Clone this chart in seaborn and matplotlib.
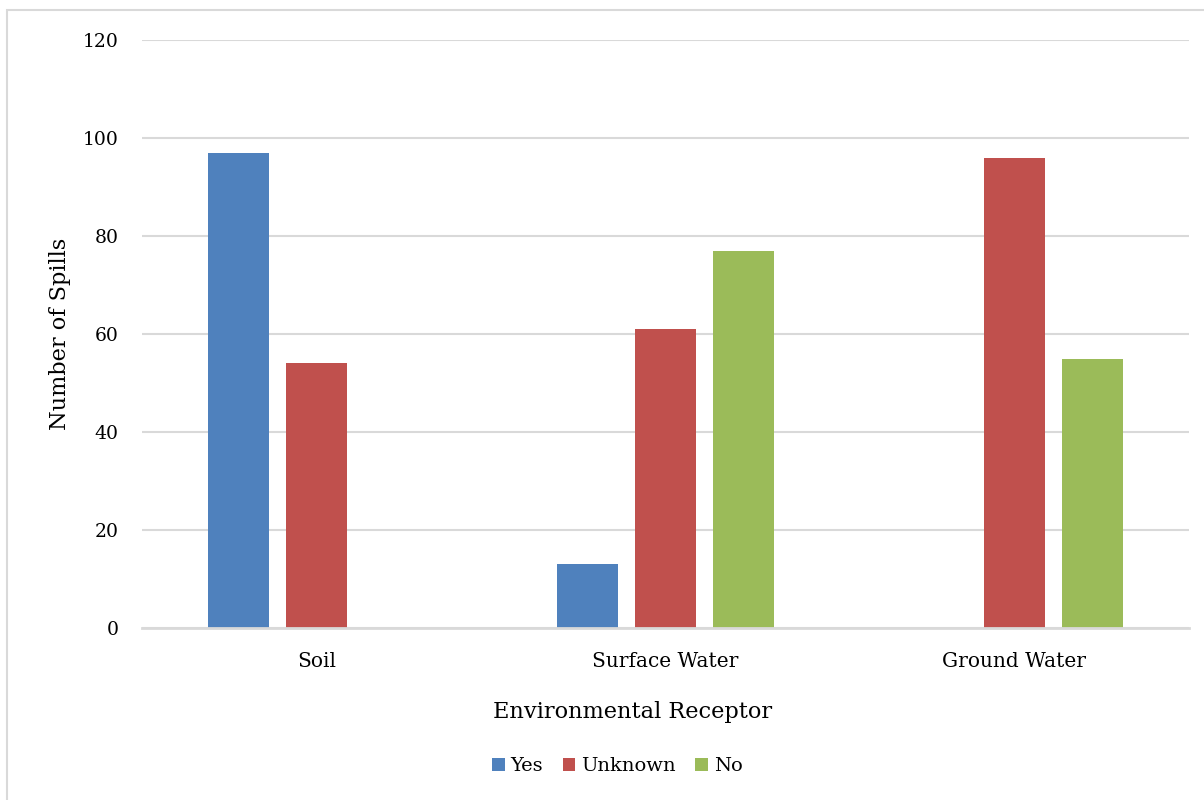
import numpy as np
import pandas as pd
import matplotlib
matplotlib.use("Agg")
import matplotlib.pyplot as plt
import seaborn as sns
from matplotlib.patches import Rectangle

receptors = ["Soil", "Surface Water", "Ground Water"]
answers = ["Yes", "Unknown", "No"]
spills_yes = [97, 13, np.nan]
spills_unknown = [54, 61, 96]
spills_no = [np.nan, 77, 55]
colors = ["#4F81BD", "#C0504D", "#9BBB59"]

df = pd.DataFrame({
    "Receptor": receptors * 3,
    "Answer": ["Yes"] * 3 + ["Unknown"] * 3 + ["No"] * 3,
    "Spills": spills_yes + spills_unknown + spills_no,
}).dropna()

sns.set_style("white")
plt.rcParams["font.family"] = ["DejaVu Serif"]
plt.rcParams["text.color"] = "black"

fig = plt.figure(figsize=(12.04, 8), dpi=100)
ax = fig.add_axes([142 / 1204, 1 - 628 / 800, (1189 - 142) / 1204, (628 - 40) / 800])

sns.barplot(data=df, x="Receptor", y="Spills", hue="Answer", order=receptors,
            hue_order=answers, palette=colors, width=0.67, gap=0.22,
            linewidth=0, saturation=1, ax=ax)

ax.set_ylim(0, 120)
ax.set_yticks(range(0, 121, 20))
ax.set_xlim(-0.5, 2.5)
ax.yaxis.grid(True, color="#D9D9D9", linewidth=1.5)
ax.set_axisbelow(True)
for s in ["top", "right", "left"]:
    ax.spines[s].set_visible(False)
ax.spines["bottom"].set_color("#D9D9D9")
ax.spines["bottom"].set_linewidth(2)
ax.tick_params(axis="both", length=0, colors="black")
ax.tick_params(axis="x", pad=17, labelsize=14.5)
ax.tick_params(axis="y", pad=17, labelsize=13.5)
ax.set_xlabel("Environmental Receptor", fontsize=16.2, color="black")
ax.xaxis.set_label_coords(0.469, -0.124)
ax.set_ylabel("Number of Spills", fontsize=16.2, labelpad=8, color="black")

leg = ax.legend(loc="upper center", bbox_to_anchor=(0.454, -0.19), ncol=3, frameon=False,
                fontsize=14, handlelength=0.65, handleheight=0.65, handletextpad=0.3,
                columnspacing=1.0)
for t in leg.get_texts():
    t.set_color("black")

fig.patches.append(Rectangle((7 / 1204, -0.01), 1.02, 1 - 10 / 800 + 0.01,
                             transform=fig.transFigure, fill=False,
                             edgecolor="#D9D9D9", linewidth=1.5))

fig.savefig("out.png", dpi=100)
